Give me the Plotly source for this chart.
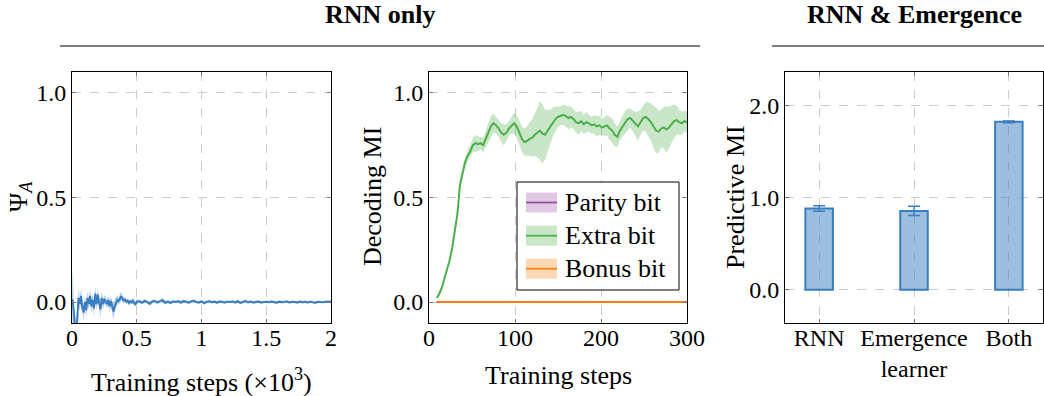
import plotly.graph_objects as go

W, H = 1044, 396

# ---------------- Panel 1: Psi_A over training (x in 10^3 steps) ----------------
PSI_STEPS = [
    0.0, 0.005, 0.01, 0.015, 0.02, 0.025, 0.03, 0.035, 0.04, 0.045, 0.05, 0.055,
    0.06, 0.07, 0.08, 0.09, 0.10, 0.11, 0.12, 0.13, 0.14, 0.15,
    0.16, 0.17, 0.18, 0.19, 0.20, 0.21, 0.22, 0.23, 0.24, 0.25,
    0.26, 0.27, 0.28, 0.29, 0.30, 0.31, 0.32, 0.33, 0.34, 0.35,
    0.36, 0.37, 0.38, 0.39, 0.40, 0.41, 0.42, 0.43, 0.44, 0.45,
    0.46, 0.47, 0.48, 0.49, 0.50,
    0.52, 0.54, 0.56, 0.58, 0.60, 0.62, 0.64, 0.66, 0.68, 0.70,
    0.72, 0.74, 0.76, 0.78, 0.80, 0.82, 0.84, 0.86, 0.88, 0.90,
    0.92, 0.94, 0.96, 0.98, 1.00, 1.02, 1.04, 1.06, 1.08, 1.10,
    1.12, 1.14, 1.16, 1.18, 1.20, 1.22, 1.24, 1.26, 1.28, 1.30,
    1.32, 1.34, 1.36, 1.38, 1.40, 1.42, 1.44, 1.46, 1.48, 1.50,
    1.52, 1.54, 1.56, 1.58, 1.60, 1.62, 1.64, 1.66, 1.68, 1.70,
    1.72, 1.74, 1.76, 1.78, 1.80, 1.82, 1.84, 1.86, 1.88, 1.90,
    1.92, 1.94, 1.96, 1.98, 2.00,
]
PSI_MEAN = [
    0.0, 0.012, -0.02, -0.09, -0.125, -0.13, -0.11, -0.14, -0.09, -0.02, 0.02, 0.008,
    -0.01, 0.03, -0.03, -0.05, 0.0, -0.04, 0.02, -0.01, 0.03, -0.02,
    0.01, -0.03, 0.04, -0.01, 0.035, -0.005, -0.035, 0.02, -0.01, 0.015,
    0.005, -0.01, 0.01, -0.02, 0.005, -0.03, -0.045, -0.02, 0.0, 0.01,
    0.005, 0.02, 0.028, 0.015, 0.008, 0.012, 0.002, 0.006, -0.004, 0.004,
    -0.002, 0.007, -0.006, -0.012, 0.002,
    0.004, -0.003, 0.006, 0.001, -0.008, 0.003, 0.005, -0.002, 0.004, 0.009,
    -0.003, 0.002, -0.004, 0.003, 0.001, 0.004, -0.002, 0.005, 0.002, -0.003,
    0.003, 0.006, 0.0, -0.002, 0.003, -0.005, 0.001, 0.004, -0.001, 0.002,
    -0.003, 0.003, 0.001, -0.002, 0.002, 0.0, 0.003, -0.002, 0.004, -0.004,
    0.001, 0.005, -0.001, 0.002, -0.002, 0.001, 0.003, -0.002, 0.001, 0.002,
    -0.001, 0.003, 0.0, -0.003, 0.002, -0.001, 0.001, 0.003, -0.002, 0.001,
    0.0, -0.002, 0.002, -0.001, 0.001, -0.002, 0.002, 0.0, -0.003, 0.001,
    0.0, -0.001, 0.002, 0.001, 0.001,
]
PSI_SPREAD = [
    0.02, 0.15, 0.08, 0.06, 0.05, 0.05, 0.05, 0.05, 0.06, 0.06, 0.05, 0.04,
    0.03, 0.035, 0.03, 0.04, 0.03, 0.035, 0.03, 0.028, 0.03, 0.035,
    0.03, 0.04, 0.035, 0.03, 0.03, 0.025, 0.04, 0.03, 0.025, 0.02,
    0.022, 0.02, 0.025, 0.03, 0.025, 0.035, 0.04, 0.03, 0.025, 0.02,
    0.018, 0.02, 0.02, 0.016, 0.015, 0.014, 0.012, 0.012, 0.012, 0.01,
    0.01, 0.012, 0.01, 0.012, 0.01,
    0.008, 0.007, 0.009, 0.007, 0.01, 0.008, 0.007, 0.008, 0.007, 0.01,
    0.008, 0.007, 0.008, 0.007, 0.006, 0.007, 0.008, 0.007, 0.006, 0.007,
    0.007, 0.008, 0.006, 0.007, 0.006, 0.008, 0.006, 0.007, 0.006, 0.006,
    0.007, 0.006, 0.006, 0.007, 0.006, 0.005, 0.006, 0.007, 0.006, 0.007,
    0.006, 0.007, 0.006, 0.005, 0.006, 0.006, 0.005, 0.006, 0.005, 0.006,
    0.005, 0.006, 0.005, 0.006, 0.005, 0.006, 0.005, 0.005, 0.006, 0.005,
    0.005, 0.006, 0.005, 0.005, 0.006, 0.005, 0.005, 0.005, 0.006, 0.005,
    0.005, 0.005, 0.006, 0.005, 0.005,
]

# ---------------- Panel 2: decoding MI ----------------
DEC_STEPS = [
    9, 12, 15, 18, 21, 24, 27, 30, 33, 36,
    39, 42, 45, 48, 51, 54, 57, 60, 63, 66,
    69, 72, 75, 78, 81, 84, 87, 90, 93, 96,
    99, 102, 105, 108, 111, 114, 117, 120, 123, 126,
    129, 132, 135, 138, 141, 144, 147, 150, 153, 156,
    159, 162, 165, 168, 171, 174, 177, 180, 183, 186,
    189, 192, 195, 198, 201, 204, 207, 210, 213, 216,
    219, 222, 225, 228, 231, 234, 237, 240, 243, 246,
    249, 252, 255, 258, 261, 264, 267, 270, 273, 276,
    279, 282, 285, 288, 291, 294, 297, 300,
]
EXTRA_MEAN = [
    0.02, 0.04, 0.07, 0.11, 0.15, 0.20, 0.26, 0.33, 0.42, 0.56,
    0.61, 0.67, 0.70, 0.72, 0.75, 0.76, 0.755, 0.76, 0.75, 0.78,
    0.81, 0.84, 0.855, 0.845, 0.83, 0.81, 0.80, 0.81, 0.83, 0.845,
    0.855, 0.84, 0.81, 0.78, 0.765, 0.77, 0.78, 0.785, 0.80, 0.81,
    0.82, 0.805, 0.80, 0.82, 0.84, 0.86, 0.875, 0.885, 0.89, 0.895,
    0.89, 0.88, 0.885, 0.875, 0.86, 0.855, 0.865, 0.85, 0.86, 0.855,
    0.845, 0.85, 0.84, 0.845, 0.835, 0.84, 0.845, 0.83, 0.82, 0.80,
    0.79, 0.82, 0.84, 0.86, 0.875, 0.88, 0.865, 0.85, 0.84, 0.86,
    0.88, 0.885, 0.875, 0.86, 0.84, 0.82, 0.815, 0.83, 0.835, 0.825,
    0.835, 0.85, 0.865, 0.87, 0.86, 0.855, 0.865, 0.86,
]
EXTRA_SPREAD = [
    0.005, 0.006, 0.007, 0.008, 0.01, 0.01, 0.012, 0.014, 0.016, 0.018,
    0.02, 0.025, 0.03, 0.03, 0.035, 0.04, 0.035, 0.03, 0.035, 0.04,
    0.045, 0.05, 0.045, 0.04, 0.04, 0.045, 0.05, 0.04, 0.035, 0.04,
    0.05, 0.055, 0.06, 0.06, 0.065, 0.07, 0.08, 0.09, 0.1, 0.12,
    0.14, 0.14, 0.12, 0.1, 0.08, 0.07, 0.06, 0.05, 0.045, 0.05,
    0.05, 0.055, 0.05, 0.045, 0.05, 0.055, 0.05, 0.045, 0.05, 0.04,
    0.04, 0.045, 0.05, 0.045, 0.04, 0.045, 0.05, 0.055, 0.06, 0.055,
    0.05, 0.045, 0.05, 0.055, 0.05, 0.045, 0.05, 0.06, 0.07, 0.06,
    0.06, 0.07, 0.08, 0.09, 0.1, 0.11, 0.1, 0.09, 0.1, 0.11,
    0.1, 0.09, 0.08, 0.07, 0.06, 0.055, 0.05, 0.05,
]
FLAT_STEPS = [9, 100, 200, 300]
PARITY_MEAN = [0.0, 0.0, 0.0, 0.0]
BONUS_MEAN = [0.0, 0.0, 0.0, 0.0]
FLAT_SPREAD = [0.004, 0.004, 0.004, 0.004]
LEGEND_NAMES = ["Parity bit", "Extra bit", "Bonus bit"]

# ---------------- Panel 3: predictive MI ----------------
BAR_LABELS = ["RNN", "Emergence<br>learner", "Both"]
BAR_VALUES = [0.88, 0.855, 1.82]
BAR_ERRORS = [0.03, 0.05, 0.01]

assert len(PSI_STEPS) == len(PSI_MEAN) == len(PSI_SPREAD)
assert len(DEC_STEPS) == len(EXTRA_MEAN) == len(EXTRA_SPREAD)

FONT = "Liberation Serif"
BLUE = "#3a7ebf"
GREEN = "#4daf4a"
PURPLE = "#984ea3"
ORANGE = "#ff7f0e"


def px(x):
    return x / W


def py(y):
    return 1 - y / H


def band(xs, mean, spread, color, fillcolor, xa, ya, lw=1.6):
    lo = [m - s for m, s in zip(mean, spread)]
    hi = [m + s for m, s in zip(mean, spread)]
    return [
        go.Scatter(x=xs, y=lo, mode="lines", line=dict(width=0), xaxis=xa, yaxis=ya,
                   showlegend=False, hoverinfo="skip"),
        go.Scatter(x=xs, y=hi, mode="lines", line=dict(width=0), fill="tonexty",
                   fillcolor=fillcolor, xaxis=xa, yaxis=ya, showlegend=False, hoverinfo="skip"),
        go.Scatter(x=xs, y=mean, mode="lines", line=dict(color=color, width=lw),
                   xaxis=xa, yaxis=ya, showlegend=False),
    ]


traces = []
traces += band(PSI_STEPS, PSI_MEAN, PSI_SPREAD, BLUE, "rgba(58,126,191,0.35)", "x", "y", 2.0)
traces += band(DEC_STEPS, EXTRA_MEAN, EXTRA_SPREAD, GREEN, "rgba(77,175,74,0.3)", "x2", "y2", 2.0)
traces += band(FLAT_STEPS, PARITY_MEAN, FLAT_SPREAD, PURPLE, "rgba(152,78,163,0.3)", "x2", "y2", 1.8)
traces += band(FLAT_STEPS, BONUS_MEAN, FLAT_SPREAD, ORANGE, "rgba(255,127,14,0.3)", "x2", "y2", 1.8)

traces.append(go.Bar(
    x=[0, 1, 2], y=BAR_VALUES, width=0.29, xaxis="x3", yaxis="y3",
    marker=dict(color="rgba(58,126,191,0.5)", line=dict(color=BLUE, width=2)),
    error_y=dict(type="data", array=BAR_ERRORS, color=BLUE, thickness=1.5, width=6),
    showlegend=False,
))


def axis(**kw):
    d = dict(
        showline=True, linecolor="black", linewidth=1, mirror="ticks",
        ticks="inside", ticklen=4, tickcolor="#777777", tickwidth=1,
        showgrid=True, gridcolor="#cccccc", griddash="dash", gridwidth=1,
        zeroline=False, automargin=False,
        tickfont=dict(family=FONT, size=24, color="black"),
    )
    d.update(kw)
    return d


y_dom = [py(323), py(72)]
layout = dict(
    template="none",
    width=W, height=H, autosize=False, margin=dict(l=0, r=0, t=0, b=0, pad=0),
    paper_bgcolor="white", plot_bgcolor="white", showlegend=False,
    font=dict(family=FONT, color="black", size=24),
    xaxis=axis(domain=[px(72), px(331)], range=[0, 2], tickvals=[0, 0.5, 1, 1.5, 2],
               ticktext=["0", "0.5", "1", "1.5", "2"], anchor="y", ticklabelstandoff=-7),
    yaxis=axis(domain=y_dom, range=[-0.1, 1.1], tickvals=[0, 0.5, 1],
               ticktext=["0.0", "0.5", "1.0"], anchor="x"),
    xaxis2=axis(domain=[px(429), px(687)], range=[0, 300], tickvals=[0, 100, 200, 300],
                ticktext=["0", "100", "200", "300"], anchor="y2", ticklabelstandoff=-7),
    yaxis2=axis(domain=y_dom, range=[-0.1, 1.1], tickvals=[0, 0.5, 1],
                ticktext=["0.0", "0.5", "1.0"], anchor="x2"),
    xaxis3=axis(domain=[px(785), px(1043)], range=[-0.36, 2.36], tickvals=[0, 1, 2],
                ticktext=BAR_LABELS, anchor="y3", ticklabelstandoff=-7),
    yaxis3=axis(domain=y_dom, range=[-0.36, 2.36], tickvals=[0, 1, 2],
                ticktext=["0.0", "1.0", "2.0"], anchor="x3"),
)

TITLEFONT = dict(family=FONT, size=26, color="black")
annotations = [
    dict(text="<b>RNN only</b>", x=px(380), y=py(15), xref="paper", yref="paper",
         showarrow=False, font=TITLEFONT, xanchor="center", yanchor="middle"),
    dict(text="<b>RNN &amp; Emergence</b>", x=px(914), y=py(15), xref="paper", yref="paper",
         showarrow=False, font=TITLEFONT, xanchor="center", yanchor="middle"),
    dict(text="Training steps (×10<sup>3</sup>)", x=px(201), y=py(380), xref="paper",
         yref="paper", showarrow=False, font=TITLEFONT, xanchor="center", yanchor="middle"),
    dict(text="Training steps", x=px(558), y=py(375), xref="paper", yref="paper",
         showarrow=False, font=TITLEFONT, xanchor="center", yanchor="middle"),
    dict(text="Ψ<sub><i>A</i></sub>", x=px(20), y=py(197), xref="paper", yref="paper",
         showarrow=False, font=TITLEFONT, textangle=-90, xanchor="center", yanchor="middle"),
    dict(text="Decoding MI", x=px(373), y=py(197), xref="paper", yref="paper",
         showarrow=False, font=TITLEFONT, textangle=-90, xanchor="center", yanchor="middle"),
    dict(text="Predictive MI", x=px(736), y=py(197), xref="paper", yref="paper",
         showarrow=False, font=TITLEFONT, textangle=-90, xanchor="center", yanchor="middle"),
]

shapes = [
    dict(type="line", xref="paper", yref="paper", x0=px(60), x1=px(700), y0=py(46), y1=py(46),
         line=dict(color="#555555", width=1.5)),
    dict(type="line", xref="paper", yref="paper", x0=px(772), x1=px(1044), y0=py(46), y1=py(46),
         line=dict(color="#555555", width=1.5)),
    # legend box
    dict(type="rect", xref="paper", yref="paper", x0=px(517), x1=px(679), y0=py(182), y1=py(290),
         line=dict(color="black", width=1), fillcolor="white"),
]

leg_colors = [(PURPLE, "rgba(152,78,163,0.3)"), (GREEN, "rgba(77,175,74,0.3)"),
              (ORANGE, "rgba(255,127,14,0.3)")]
leg_centers = [202.5, 235.7, 268.7]
for name, (lc, fc), cy in zip(LEGEND_NAMES, leg_colors, leg_centers):
    shapes.append(dict(type="rect", xref="paper", yref="paper", x0=px(526), x1=px(557),
                       y0=py(cy + 10), y1=py(cy - 10), line=dict(width=0), fillcolor=fc))
    shapes.append(dict(type="line", xref="paper", yref="paper", x0=px(526), x1=px(557),
                       y0=py(cy), y1=py(cy), line=dict(color=lc, width=1.8)))
    annotations.append(dict(text=name, x=px(563), y=py(cy), xref="paper", yref="paper",
                            showarrow=False, font=TITLEFONT, xanchor="left", yanchor="middle"))

layout["annotations"] = annotations
layout["shapes"] = shapes

fig = go.Figure(data=traces, layout=layout)
fig.write_html(
    "out.html",
    config={"responsive": False, "displayModeBar": False},
    post_script="document.body.style.margin='0';document.body.style.overflow='hidden';",
)
